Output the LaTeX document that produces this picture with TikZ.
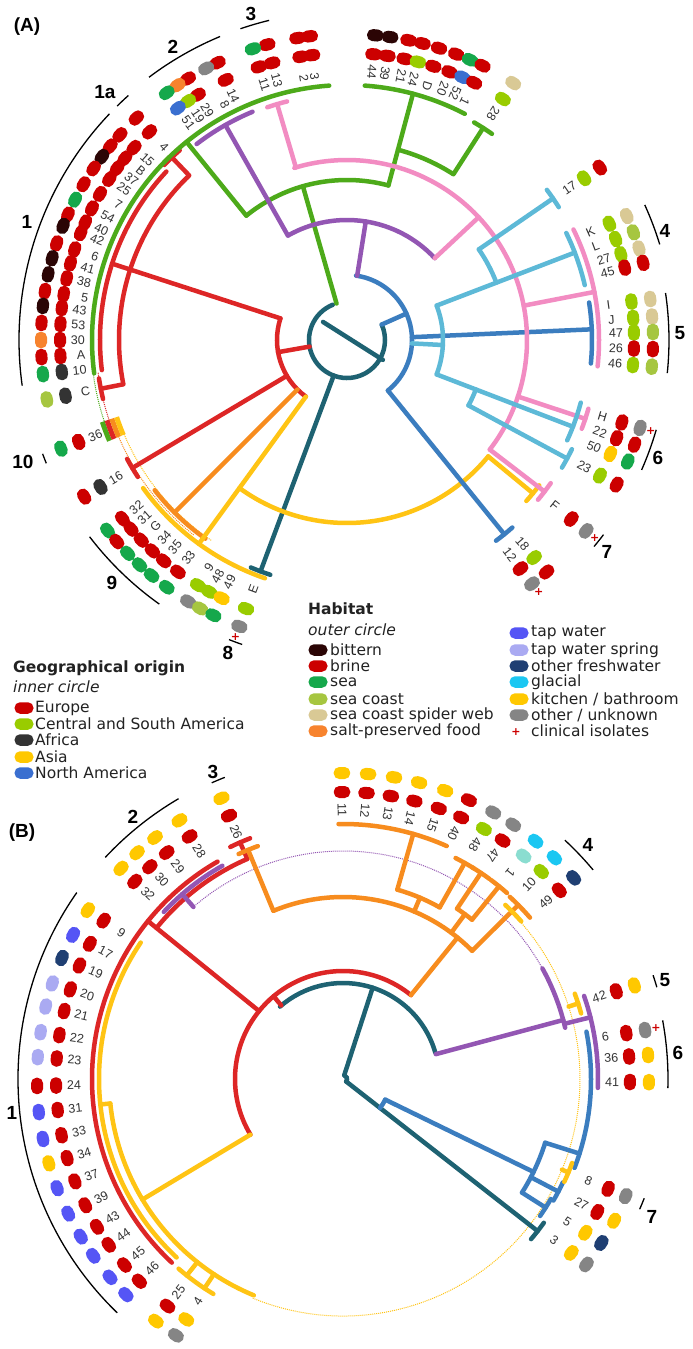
\documentclass[tikz,border=0pt]{standalone}
\usepackage{fontspec}
\setmainfont{DejaVu Sans}
\newfontfamily\arialf{Liberation Sans}
\usetikzlibrary{calc}
% habitat / origin colours
\definecolor{eu}{HTML}{CC0000}
\definecolor{csa}{HTML}{99CC00}
\definecolor{af}{HTML}{333333}
\definecolor{as}{HTML}{FFC800}
\definecolor{na}{HTML}{3A6FD0}
\definecolor{bit}{HTML}{2B0505}
\definecolor{sea}{HTML}{15A84B}
\definecolor{coast}{HTML}{A6C640}
\definecolor{web}{HTML}{D9C995}
\definecolor{salt}{HTML}{F7832E}
\definecolor{tap}{HTML}{5555F5}
\definecolor{spring}{HTML}{AAAAF2}
\definecolor{fresh}{HTML}{1F3F73}
\definecolor{glac}{HTML}{1BC7F2}
\definecolor{unk}{HTML}{858585}
\definecolor{aqua}{HTML}{8ADDD0}
% tree colours
\definecolor{tred}{HTML}{DD2626}
\definecolor{tgreen}{HTML}{4DAA1A}
\definecolor{tpurple}{HTML}{9356B3}
\definecolor{tpink}{HTML}{F28CC2}
\definecolor{tcyan}{HTML}{5DB9D7}
\definecolor{tblue}{HTML}{3B7DBF}
\definecolor{tteal}{HTML}{1E6272}
\definecolor{torange}{HTML}{F78C1E}
\definecolor{tyellow}{HTML}{FFC414}
\definecolor{labc}{HTML}{333333}
\definecolor{legc}{HTML}{222222}

\tikzset{
 br/.style={line width=4.5pt, line cap=round},
 grp/.style={line width=1.3pt, black},
 pill/.style={rectangle, rounded corners=5.5pt, minimum width=12pt, minimum height=16.5pt, inner sep=0pt, draw=none},
 lpill/.style={rectangle, rounded corners=5.5pt, minimum width=19pt, minimum height=11.5pt, inner sep=0pt, draw=none},
 lab/.style={font=\arialf\fontsize{12.5}{13}\selectfont, text=labc, inner sep=0pt},
 glab/.style={font=\arialf\bfseries\fontsize{19}{20}\selectfont, inner sep=0pt},
 legt/.style={font=\fontsize{15.5}{17}\selectfont, text=legc, inner sep=0pt, anchor=west},
 dotl/.style={line width=1pt, densely dotted},
 tipbar/.style={line width=5pt, line cap=butt},
 crossn/.style={text=eu, font=\bfseries\fontsize{11}{11}\selectfont, inner sep=0pt},
}
% arc: style, centre, radius, a1, a2
\newcommand\Ac[5]{\draw[br,#1] ([shift={(#4:#3pt)}]#2) arc[start angle=#4, end angle=#5, radius=#3pt];}
% radial: style, centre, angle, r1, r2
\newcommand\Rd[5]{\draw[br,#1] ([shift={(#3:#4pt)}]#2) -- ([shift={(#3:#5pt)}]#2);}
% T bar
\newcommand\Tb[5]{\Rd{#1}{#2}{#3}{#4}{#5}\Ac{#1}{#2}{#5}{#3-2.4}{#3+2.4}}
% group arc: centre r a1 a2
\newcommand\Gp[4]{\draw[grp] ([shift={(#3:#2pt)}]#1) arc[start angle=#3, end angle=#4, radius=#2pt];}
% leaves: centre angle label inner outer
\newcommand\LL[5]{%
 \node[lab,anchor=east,rotate=#2-180] (#1-#3) at ([shift={(#2:262pt)}]#1) {#3};
 \node[pill,fill=#4,rotate=#2] (#1-#3-i) at ([shift={(#2:287pt)}]#1) {};
 \node[pill,fill=#5,rotate=#2] (#1-#3-o) at ([shift={(#2:306pt)}]#1) {};}
\newcommand\LR[5]{%
 \node[lab,anchor=west,rotate=#2] (#1-#3) at ([shift={(#2:262pt)}]#1) {#3};
 \node[pill,fill=#4,rotate=#2] (#1-#3-i) at ([shift={(#2:287pt)}]#1) {};
 \node[pill,fill=#5,rotate=#2] (#1-#3-o) at ([shift={(#2:306pt)}]#1) {};}
\newcommand\Cx[3]{\node[crossn] (#3) at ([shift={(#2:317pt)}]#1) {+};}

\begin{document}
\begin{tikzpicture}[x=1pt,y=1pt]
\useasboundingbox (0,0) rectangle (693,-1349);
\fill[white] (0,0) rectangle (693,-1349);
\coordinate (cA) at (347,-340);
\coordinate (cB) at (343,-1079);

%================ PANEL A =================
\node[glab] (panA) at (27,-27) {(A)};
% dotted connections
\draw[dotl,tgreen] ([shift={(187.5:256pt)}]cA) arc[start angle=187.5, end angle=199, radius=256pt];
\draw[dotl,tred] ([shift={(187.5:251pt)}]cA) arc[start angle=187.5, end angle=199, radius=251pt];
\draw[dotl,torange] ([shift={(202:248pt)}]cA) arc[start angle=202, end angle=232, radius=248pt];
\draw[dotl,tyellow] ([shift={(202:242pt)}]cA) arc[start angle=202, end angle=236, radius=242pt];
% teal root
\Ac{tteal}{cA}{38}{112}{384}
\draw[br,tteal] ([shift={(143:30pt)}]cA) -- ([shift={(-29:41pt)}]cA);
\Tb{tteal}{cA}{249.5}{38}{247}
% red
\Rd{tred}{cA}{190}{38}{70}
\Ac{tred}{cA}{70}{162}{234}
\Rd{tred}{cA}{162}{70}{247}
\Ac{tred}{cA}{228}{134}{191}
\Tb{tred}{cA}{133.8}{228}{253}
\Tb{tred}{cA}{191.2}{228}{251}
\Ac{tred}{cA}{247}{137}{187}
\Tb{tred}{cA}{210.8}{70}{250}
% orange
\Rd{torange}{cA}{225}{70}{244}
\Ac{torange}{cA}{244}{218}{234.5}
% yellow
\Rd{tyellow}{cA}{234}{70}{252}
\Ac{tyellow}{cA}{252}{216}{251}
\Ac{tyellow}{cA}{183}{234}{320.5}
\Tb{tyellow}{cA}{-39.5}{183}{241}
% green
\Rd{tgreen}{cA}{106}{38}{160}
\Ac{tgreen}{cA}{160}{75}{129}
\Rd{tgreen}{cA}{129}{160}{255}
\Ac{tgreen}{cA}{255}{94}{187.5}
\Rd{tgreen}{cA}{75}{160}{255}
\Ac{tgreen}{cA}{255}{62.5}{86}
\Ac{tgreen}{cA}{197}{57.5}{75}
\Tb{tgreen}{cA}{57.3}{197}{252}
% blue
\Rd{tblue}{cA}{24}{38}{65}
\Ac{tblue}{cA}{65}{-51}{82}
\Rd{tblue}{cA}{2.5}{65}{245}
\Ac{tblue}{cA}{245}{-5.5}{8.8}
\Tb{tblue}{cA}{-51}{65}{250}
% purple
\Rd{tpurple}{cA}{81}{65}{120}
\Ac{tpurple}{cA}{120}{43}{119.5}
\Rd{tpurple}{cA}{119.5}{120}{247}
\Ac{tpurple}{cA}{247}{112.5}{127.5}
% pink
\Rd{tpink}{cA}{43}{120}{180}
\Ac{tpink}{cA}{180}{-37.5}{107}
\Tb{tpink}{cA}{106.5}{180}{246}
\Rd{tpink}{cA}{11}{180}{252}
\Ac{tpink}{cA}{252}{-6}{26}
\Tb{tpink}{cA}{-18.3}{180}{251}
\Tb{tpink}{cA}{-37.5}{180}{249}
% cyan
\Rd{tcyan}{cA}{-3}{65}{96}
\Ac{tcyan}{cA}{96}{-21}{21}
\Rd{tcyan}{cA}{21}{96}{244}
\Ac{tcyan}{cA}{244}{13}{26}
\Ac{tcyan}{cA}{160}{21}{34.5}
\Tb{tcyan}{cA}{34.5}{160}{250}
\Rd{tcyan}{cA}{-21}{96}{242}
\Ac{tcyan}{cA}{242}{-24.5}{-15}
\Ac{tcyan}{cA}{138}{-28.3}{-21}
\Tb{tcyan}{cA}{-28.3}{138}{250}
% small bars at 36
\Ac{tgreen,tipbar}{cA}{258}{198.5}{203}
\Ac{tred,tipbar}{cA}{253}{198.5}{203}
\Ac{torange,tipbar}{cA}{248}{198.5}{203}
\Ac{tyellow,tipbar}{cA}{243}{198.5}{203}

% leaves A
\LL{cA}{97.0}{3}{eu}{eu}
\LL{cA}{99.3}{2}{eu}{eu}
\LL{cA}{105.1}{13}{eu}{eu}
\LL{cA}{107.9}{11}{eu}{sea}
\LL{cA}{115.0}{14}{eu}{eu}
\LL{cA}{117.4}{8}{none}{unk}
\LL{cA}{121.3}{29}{eu}{eu}
\LL{cA}{123.6}{19}{csa}{salt}
\LL{cA}{126.1}{51}{na}{sea}
\LL{cA}{133.5}{4}{eu}{eu}
\LL{cA}{137.9}{15}{eu}{eu}
\LL{cA}{140.7}{B}{eu}{eu}
\LL{cA}{143.2}{37}{eu}{bit}
\LL{cA}{145.9}{25}{eu}{eu}
\LL{cA}{149.4}{7}{eu}{eu}
\LL{cA}{152.7}{54}{eu}{sea}
\LL{cA}{155.8}{40}{eu}{eu}
\LL{cA}{158.1}{42}{eu}{bit}
\LL{cA}{161.6}{6}{eu}{eu}
\LL{cA}{164.5}{41}{eu}{bit}
\LL{cA}{167.6}{38}{eu}{bit}
\LL{cA}{170.8}{5}{eu}{eu}
\LL{cA}{173.6}{43}{eu}{bit}
\LL{cA}{176.8}{53}{eu}{eu}
\LL{cA}{180}{30}{eu}{salt}
\LL{cA}{183.2}{A}{eu}{eu}
\LL{cA}{186.4}{10}{af}{sea}
\LL{cA}{191.2}{C}{af}{coast}
\LL{cA}{200.8}{36}{eu}{sea}
\LL{cA}{210.8}{16}{af}{eu}
\LL{cA}{218.5}{32}{eu}{sea}
\LL{cA}{221.2}{31}{eu}{eu}
\LL{cA}{224.2}{G}{eu}{sea}
\LL{cA}{227.3}{34}{eu}{sea}
\LL{cA}{230.3}{35}{eu}{sea}
\LL{cA}{233.9}{33}{eu}{sea}
\LL{cA}{238.7}{9}{csa}{unk}
\LL{cA}{241.3}{48}{csa}{coast}
\LL{cA}{244.1}{49}{as}{sea}
\LL{cA}{249.4}{E}{csa}{unk}
\Cx{cA}{249.4}{xAE}
\LL{cA}{84.7}{44}{eu}{bit}
\LL{cA}{81.9}{39}{eu}{bit}
\LL{cA}{78.4}{21}{eu}{eu}
\LL{cA}{75.7}{24}{csa}{eu}
\LL{cA}{72.5}{D}{eu}{eu}
\LL{cA}{69.1}{20}{eu}{eu}
\LL{cA}{66.3}{52}{na}{sea}
\LL{cA}{63.7}{1}{eu}{eu}
\LL{cA}{57.1}{28}{csa}{web}
\LR{cA}{34.3}{17}{csa}{eu}
\LR{cA}{23.9}{K}{csa}{web}
\LR{cA}{20.6}{L}{csa}{coast}
\LR{cA}{17.4}{27}{csa}{web}
\LR{cA}{14.6}{45}{eu}{eu}
\LR{cA}{7.7}{I}{csa}{web}
\LR{cA}{4.4}{J}{csa}{web}
\LR{cA}{1.5}{47}{csa}{coast}
\LR{cA}{-1.7}{26}{eu}{eu}
\LR{cA}{-5.0}{46}{csa}{coast}
\LR{cA}{-16.7}{H}{eu}{unk}
\Cx{cA}{-16.7}{xAH}
\LR{cA}{-20.0}{22}{eu}{eu}
\LR{cA}{-23.4}{50}{as}{sea}
\LR{cA}{-28.2}{23}{csa}{eu}
\LR{cA}{-38.6}{F}{eu}{unk}
\Cx{cA}{-38.6}{xAF}
\LR{cA}{-49.3}{18}{csa}{eu}
\LR{cA}{-52.8}{12}{eu}{unk}
\Cx{cA}{-52.8}{xA12}

% groups A
\Gp{cA}{328}{131.8}{134.5}
\Gp{cA}{328}{136.4}{188}
\Gp{cA}{329}{112.7}{127}
\Gp{cA}{329}{103.7}{108.9}
\Gp{cA}{327}{17}{24.4}
\Gp{cA}{322}{-5.9}{8.4}
\Gp{cA}{322}{-23.8}{-16.2}
\Gp{cA}{322}{-39.9}{-37.2}
\Gp{cA}{322}{248.5}{251}
\Gp{cA}{324}{217.4}{234.6}
\Gp{cA}{325}{200.5}{202.3}
\node[glab] (gA1a) at (105,-92) {1a};
\node[glab] (gA1) at (27,-222) {1};
\node[glab] (gA2) at (173,-47) {2};
\node[glab] (gA3) at (251,-14) {3};
\node[glab] (gA4) at (665,-231) {4};
\node[glab] (gA5) at (680,-333) {5};
\node[glab] (gA6) at (658,-458) {6};
\node[glab] (gA7) at (607,-552) {7};
\node[glab] (gA8) at (228,-653) {8};
\node[glab] (gA9) at (112,-583) {9};
\node[glab] (gA10) at (23,-462) {10};

%================ LEGENDS =================
\node[legt,font=\bfseries\fontsize{15.5}{17}\selectfont] (geoT) at (13,-668) {Geographical origin};
\node[legt,font=\itshape\fontsize{15.5}{17}\selectfont] (geoS) at (13,-687) {inner circle};
\node[lpill,fill=eu] (gp1) at (24,-708) {}; \node[legt] (gt1) at (35,-708) {Europe};
\node[lpill,fill=csa] (gp2) at (24,-724) {}; \node[legt] (gt2) at (35,-724) {Central and South America};
\node[lpill,fill=af] (gp3) at (24,-740) {}; \node[legt] (gt3) at (35,-740) {Africa};
\node[lpill,fill=as] (gp4) at (24,-757) {}; \node[legt] (gt4) at (35,-757) {Asia};
\node[lpill,fill=na] (gp5) at (24,-773) {}; \node[legt] (gt5) at (35,-773) {North America};

\node[legt,font=\bfseries\fontsize{15.5}{17}\selectfont] (habT) at (308,-609) {Habitat};
\node[legt,font=\itshape\fontsize{15.5}{17}\selectfont] (habS) at (308,-630) {outer circle};
\node[lpill,fill=bit] (hp1) at (318,-650) {}; \node[legt] (ht1) at (330,-650) {bittern};
\node[lpill,fill=eu] (hp2) at (318,-666) {}; \node[legt] (ht2) at (330,-666) {brine};
\node[lpill,fill=sea] (hp3) at (318,-682) {}; \node[legt] (ht3) at (330,-682) {sea};
\node[lpill,fill=coast] (hp4) at (318,-699) {}; \node[legt] (ht4) at (330,-699) {sea coast};
\node[lpill,fill=web] (hp5) at (318,-715) {}; \node[legt] (ht5) at (330,-715) {sea coast spider web};
\node[lpill,fill=salt] (hp6) at (318,-731) {}; \node[legt] (ht6) at (330,-731) {salt-preserved food};
\node[lpill,fill=tap] (hq1) at (519,-633) {}; \node[legt] (hu1) at (531,-633) {tap water};
\node[lpill,fill=spring] (hq2) at (519,-650) {}; \node[legt] (hu2) at (531,-650) {tap water spring};
\node[lpill,fill=fresh] (hq3) at (519,-666) {}; \node[legt] (hu3) at (531,-666) {other freshwater};
\node[lpill,fill=glac] (hq4) at (519,-682) {}; \node[legt] (hu4) at (531,-682) {glacial};
\node[lpill,fill=as] (hq5) at (519,-699) {}; \node[legt] (hu5) at (531,-699) {kitchen / bathroom};
\node[lpill,fill=unk] (hq6) at (519,-715) {}; \node[legt] (hu6) at (531,-715) {other / unknown};
\node[crossn] (hq7) at (516,-732) {+}; \node[legt] (hu7) at (531,-731) {clinical isolates};

%================ PANEL B =================
\node[glab] (panB) at (22,-833) {(B)};
% dotted
\draw[dotl,tpurple] ([shift={(29:228pt)}]cB) arc[start angle=29, end angle=131, radius=228pt];
\draw[dotl,tyellow] ([shift={(-112.4:237pt)}]cB) arc[start angle=-112.4, end angle=41.5, radius=237pt];
% teal
\Ac{tteal}{cB}{96}{16}{131}
\Rd{tteal}{cB}{72}{4}{96}
\Ac{tteal}{cB}{4}{-38}{72}
\Tb{tteal}{cB}{-38}{4}{247}
% red
\Rd{tred}{cB}{130}{96}{108}
\Ac{tred}{cB}{108}{51}{211}
\Rd{tred}{cB}{141}{108}{251}
\Ac{tred}{cB}{240}{113.5}{141}
\Tb{tred}{cB}{113.5}{240}{258}
\Ac{tred}{cB}{251}{120}{227}
% orange
\Rd{torange}{cB}{51}{108}{182}
\Ac{torange}{cB}{182}{44.8}{112.5}
\Tb{torange}{cB}{112.5}{182}{248}
\Rd{torange}{cB}{67}{182}{197}
\Ac{torange}{cB}{197}{60.6}{74}
\Rd{torange}{cB}{74}{197}{255}
\Ac{torange}{cB}{255}{66}{91}
\Tb{torange}{cB}{60.6}{197}{248}
\Rd{torange}{cB}{53.5}{182}{205}
\Ac{torange}{cB}{205}{51}{56.2}
\Tb{torange}{cB}{56.2}{205}{248}
\Tb{torange}{cB}{51}{205}{248}
\Rd{torange}{cB}{44.8}{182}{247}
\Ac{torange}{cB}{247}{40.8}{47.5}
% purple
\Rd{tpurple}{cB}{15}{96}{228}
\Ac{tpurple}{cB}{228}{13}{29}
\Rd{tpurple}{cB}{131}{228}{245}
\Ac{tpurple}{cB}{245}{119.5}{137}
\Rd{tpurple}{cB}{14}{228}{255}
\Ac{tpurple}{cB}{255}{-2}{19}
% blue
\Ac{tblue}{cB}{47}{-38}{-26}
\Rd{tblue}{cB}{-26}{47}{212}
\Ac{tblue}{cB}{212}{-32.4}{-17.5}
\Rd{tblue}{cB}{-17.5}{212}{248}
\Ac{tblue}{cB}{248}{-21}{11}
\Tb{tblue}{cB}{-27.6}{212}{243}
\Tb{tblue}{cB}{-32.4}{212}{240}
% yellow
\Rd{tyellow}{cB}{211}{108}{234}
\Ac{tyellow}{cB}{234}{186}{247.6}
\Rd{tyellow}{cB}{186}{234}{244}
\Ac{tyellow}{cB}{244}{146}{227}
\Tb{tyellow}{cB}{231.5}{234}{251}
\Tb{tyellow}{cB}{236.5}{234}{251}
\Ac{tyellow}{cB}{238}{41.5}{47}
\Tb{tyellow}{cB}{17.8}{237}{247}
\Tb{tyellow}{cB}{-22.5}{237}{244}

% leaves B
\LL{cB}{113.4}{26}{eu}{as}
\LL{cB}{122.3}{28}{eu}{as}
\LL{cB}{127.9}{29}{eu}{as}
\LL{cB}{132.3}{30}{eu}{as}
\LL{cB}{136.5}{32}{eu}{as}
\LL{cB}{146.5}{9}{eu}{as}
\LL{cB}{151.9}{17}{eu}{tap}
\LL{cB}{156.7}{19}{eu}{fresh}
\LL{cB}{161.8}{20}{eu}{spring}
\LL{cB}{166.3}{21}{eu}{spring}
\LL{cB}{171.2}{22}{eu}{spring}
\LL{cB}{175.9}{23}{eu}{spring}
\LL{cB}{181.3}{24}{eu}{eu}
\LL{cB}{186.2}{31}{eu}{tap}
\LL{cB}{191.3}{33}{eu}{tap}
\LL{cB}{196.0}{34}{eu}{as}
\LL{cB}{200.9}{37}{eu}{tap}
\LL{cB}{206.1}{39}{eu}{tap}
\LL{cB}{211.0}{43}{eu}{tap}
\LL{cB}{215.3}{44}{eu}{tap}
\LL{cB}{220.4}{45}{eu}{tap}
\LL{cB}{224.8}{46}{eu}{tap}
\LL{cB}{232.3}{25}{eu}{as}
\LL{cB}{236.9}{4}{as}{unk}
\LR{cB}{-37.3}{3}{as}{unk}
\LR{cB}{-32.4}{5}{as}{fresh}
\LR{cB}{-27.6}{27}{eu}{as}
\LR{cB}{-22.5}{8}{eu}{unk}
\LR{cB}{-0.6}{41}{eu}{as}
\LR{cB}{4.5}{36}{eu}{as}
\LR{cB}{9.2}{6}{eu}{unk}
\Cx{cB}{9.2}{xB6}
\LR{cB}{17.8}{42}{eu}{as}
\LR{cB}{41.1}{49}{eu}{fresh}
\LR{cB}{46.3}{10}{csa}{glac}
\LL{cB}{51.0}{1}{aqua}{glac}
\LL{cB}{56.2}{47}{eu}{unk}
\LL{cB}{60.6}{48}{csa}{unk}
\LL{cB}{65.7}{40}{eu}{eu}
\LL{cB}{70.5}{15}{eu}{as}
\LL{cB}{75.6}{14}{eu}{as}
\LL{cB}{80.4}{13}{eu}{as}
\LL{cB}{85.3}{12}{eu}{as}
\LL{cB}{90.2}{11}{eu}{as}

% groups B
\Gp{cB}{325}{145}{226}
\Gp{cB}{325}{120.4}{137}
\Gp{cB}{324}{111.4}{113.9}
\Gp{cB}{326}{39.9}{47.1}
\Gp{cB}{327}{16.3}{18.5}
\Gp{cB}{325}{-1.6}{10.4}
\Gp{cB}{324}{-23.7}{-21.6}
\node[glab] (gB1) at (12,-1113) {1};
\node[glab] (gB2) at (133,-817) {2};
\node[glab] (gB3) at (213,-772) {3};
\node[glab] (gB4) at (588,-845) {4};
\node[glab] (gB5) at (665,-980) {5};
\node[glab] (gB6) at (678,-1053) {6};
\node[glab] (gB7) at (652,-1217) {7};
\end{tikzpicture}
\end{document}
